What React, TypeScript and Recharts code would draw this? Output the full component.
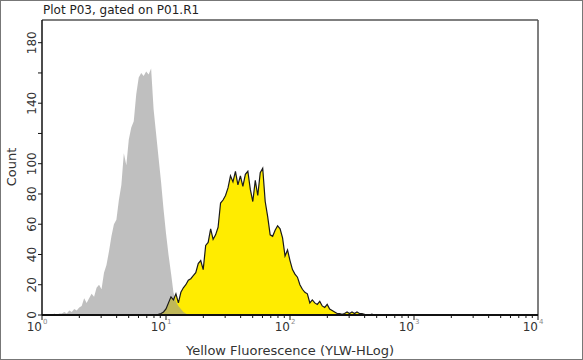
import { ComposedChart, Area, Line, XAxis, YAxis, ReferenceLine } from "recharts";

// histogram bins on a log10 axis (decades), bin width 0.02 decade
const BIN_WIDTH = 0.02;
const GRAY_START = 0.06;
const YELLOW_START = 0.9;

// isotype control (gray)
const GRAY_COUNTS = [
  0, 0, 1, 0, 1, 1, 2, 1, 3, 2, 4, 3, 5, 6, 11, 8, 11, 14, 12, 18,
  20, 17, 28, 33, 42, 52, 60, 63, 76, 86, 107, 99, 116, 124, 128, 146, 157, 160, 158, 161,
  159, 163, 136, 120, 104, 88, 70, 54, 40, 28, 15, 9, 6, 4, 2, 1, 0,
];

// stained sample (yellow)
const YELLOW_COUNTS = [
  0, 0, 0.5, 1, 2, 4, 8, 12, 10, 14, 8, 15, 18, 20, 23, 24, 26, 28, 34, 36,
  30, 46, 48, 57, 50, 53, 58, 74, 76, 79, 84, 92, 88, 95, 86, 92, 85, 93, 95, 83,
  75, 89, 79, 94, 97, 75, 65, 53, 52, 56, 59, 57, 51, 39, 43, 36, 30, 27, 25, 20,
  17, 15, 14, 8, 10, 8, 7, 9, 6, 5, 7, 4, 3, 2, 1, 1, 0.5, 1, 2, 1,
  2, 1, 2, 1, 1, 0.5, 0, 0, 0.5, 0, 0,
];

const X_DECADES = [0, 1, 2, 3, 4];
const Y_TICKS = [0, 20, 40, 60, 80, 100, 120, 140, 160, 180];
const Y_LABELS = [0, 20, 40, 60, 80, 100, 140, 180];
const Y_MAX = 195;

const FONT = "'DejaVu Sans', Verdana, sans-serif";

const round3 = (v: number) => Math.round(v * 1000) / 1000;

const yellowOffset = Math.round((YELLOW_START - GRAY_START) / BIN_WIDTH);
const nBins = Math.max(GRAY_COUNTS.length, yellowOffset + YELLOW_COUNTS.length);
const rows = Array.from({ length: nBins }, (_, i) => ({
  x: round3(GRAY_START + i * BIN_WIDTH),
  gray: i < GRAY_COUNTS.length ? GRAY_COUNTS[i] : undefined,
  yellow: i >= yellowOffset && i - yellowOffset < YELLOW_COUNTS.length ? YELLOW_COUNTS[i - yellowOffset] : undefined,
}));

const xTicks: number[] = [];
X_DECADES.forEach((d) => {
  xTicks.push(d);
  if (d < 4) for (let k = 2; k <= 9; k++) xTicks.push(round3(d + Math.log10(k)));
});

function XTick(props: any) {
  const { x, y, payload } = props;
  const v = payload.value;
  const major = Number.isInteger(v);
  return (
    <g>
      <line x1={x} x2={x} y1={y} y2={y + (major ? 5 : 3)} stroke="#111" strokeWidth={1} />
      {major && (
        <text x={x} y={y + 16} textAnchor="end" fontSize={12} fontFamily={FONT} fill="#333">
          10
        </text>
      )}
      {major && (
        <text x={x + 1} y={y + 9} textAnchor="start" fontSize={7} fontFamily={FONT} fill="#888">
          {v}
        </text>
      )}
    </g>
  );
}

function YTick(props: any) {
  const { x, y, payload } = props;
  const v = payload.value;
  const tx = x - 6;
  return (
    <g>
      <line x1={x - 4} x2={x} y1={y} y2={y} stroke="#111" strokeWidth={1} />
      {Y_LABELS.includes(v) && (
        <text
          x={tx}
          y={y}
          transform={`rotate(-90 ${tx} ${y})`}
          textAnchor="middle"
          fontSize={12}
          fontFamily={FONT}
          fill="#333"
        >
          {v}
        </text>
      )}
    </g>
  );
}

export default function App() {
  return (
    <div style={{ position: "absolute", left: 0, top: 0, width: 583, height: 360, background: "#fff" }}>
      <div
        style={{
          position: "absolute",
          left: 43,
          top: 2,
          fontFamily: FONT,
          fontSize: 12,
          color: "#222",
          lineHeight: "16px",
        }}
      >
        Plot P03, gated on P01.R1
      </div>
      <ComposedChart width={583} height={360} data={rows} margin={{ top: 20, right: 45, bottom: 0, left: 0 }}>
        <XAxis
          type="number"
          dataKey="x"
          domain={[0, 4]}
          ticks={xTicks}
          interval={0}
          tick={<XTick />}
          tickLine={false}
          tickSize={0}
          tickMargin={0}
          axisLine={{ stroke: "#111", strokeWidth: 2 }}
          height={45}
          allowDataOverflow
          label={{
            content: () => (
              <text x={290} y={355} textAnchor="middle" fontSize={13} fontFamily={FONT} fill="#333">
                Yellow Fluorescence (YLW-HLog)
              </text>
            ),
          }}
        />
        <YAxis
          type="number"
          domain={[0, Y_MAX]}
          ticks={Y_TICKS}
          interval={0}
          tick={<YTick />}
          tickLine={false}
          tickSize={0}
          tickMargin={0}
          axisLine={{ stroke: "#111", strokeWidth: 1.5 }}
          width={42}
          allowDataOverflow
          label={{
            content: () => (
              <text
                x={16}
                y={167}
                transform="rotate(-90 16 167)"
                textAnchor="middle"
                fontSize={13}
                fontFamily={FONT}
                fill="#333"
              >
                Count
              </text>
            ),
          }}
        />
        <ReferenceLine y={Y_MAX} stroke="#555" strokeWidth={1.5} />
        <ReferenceLine x={4} stroke="#555" strokeWidth={1.5} />
        <Area
          type="linear"
          dataKey="yellow"
          fill="#ffec00"
          fillOpacity={1}
          stroke="none"
          isAnimationActive={false}
        />
        <Area
          type="linear"
          dataKey="gray"
          fill="#959595"
          fillOpacity={0.6}
          stroke="none"
          isAnimationActive={false}
        />
        <Line
          type="linear"
          dataKey="yellow"
          stroke="#1a1a1a"
          strokeWidth={1.2}
          dot={false}
          isAnimationActive={false}
        />
      </ComposedChart>
      <div
        style={{
          position: "absolute",
          left: 0,
          top: 0,
          width: 583,
          height: 360,
          boxSizing: "border-box",
          border: "1px solid #777",
          pointerEvents: "none",
        }}
      />
    </div>
  );
}
